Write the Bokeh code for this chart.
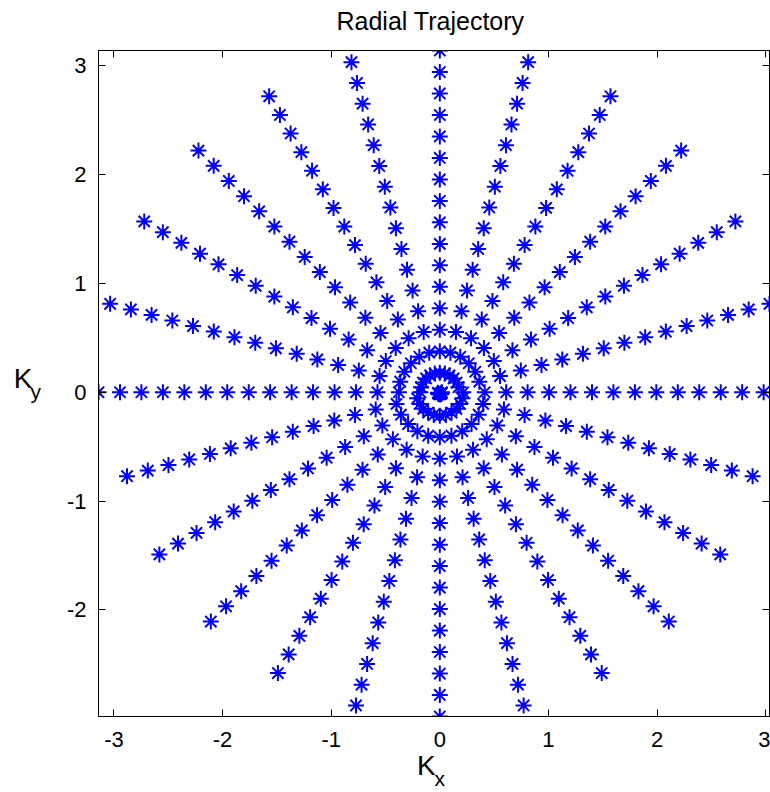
import math
from bokeh.plotting import figure
from bokeh.models import Range1d, LinearAxis, FixedTicker, ColumnDataSource
from bokeh.embed import file_html
from bokeh.resources import INLINE

# ---- data ----
# spoke orientations (degrees) of the 12 lines through the k-space centre
spoke_angles_deg = [0, 15, 30, 45, 60, 75, 90, 105, 120, 135, 150, 165]
# sample positions along every spoke (signed distance from the centre)
k_samples = [-3.142, -2.944, -2.747, -2.549, -2.352, -2.154, -1.957, -1.759,
             -1.562, -1.364, -1.167, -0.969, -0.772, -0.574, -0.377, -0.179,
             0.018, 0.216, 0.413, 0.611, 0.808, 1.006, 1.203, 1.401,
             1.598, 1.796, 1.993, 2.191, 2.388, 2.586, 2.783, 2.981]
x_ticks = [-3, -2, -1, 0, 1, 2, 3]
y_ticks = [-2, -1, 0, 1, 2, 3]
title_text = "Radial Trajectory"

# ---- build point table ----
kx, ky = [], []
for a in spoke_angles_deg:
    t = math.radians(a)
    for k in k_samples:
        kx.append(k * math.cos(t))
        ky.append(-k * math.sin(t))
src = ColumnDataSource(dict(kx=kx, ky=ky))

xmin, xmax = min(kx), max(kx)
ymin, ymax = min(ky), max(ky)

W, H = 770, 792
FL, FR, FT, FB = 98, 769, 50, 716   # frame edges in pixels
FONT = "Liberation Sans"
NB = "\u00a0"

p = figure(width=W, height=H, output_backend="svg", toolbar_location=None,
           x_range=Range1d(xmin, xmax), y_range=Range1d(ymin, ymax),
           min_border_left=FL, min_border_right=W - FR, min_border_top=FT,
           min_border_bottom=H - FB, title=None)
p.background_fill_color = "white"
p.border_fill_color = "white"
p.outline_line_color = "black"
p.outline_line_width = 1
p.xgrid.visible = False
p.ygrid.visible = False


def style_main(ax, ticks, standoff):
    ax.ticker = FixedTicker(ticks=ticks)
    ax.major_label_overrides = {t: str(t) for t in ticks}
    ax.minor_tick_line_color = None
    ax.major_tick_in = 7
    ax.major_tick_out = 0
    ax.major_tick_line_color = "black"
    ax.axis_line_color = "black"
    ax.major_label_text_font = FONT
    ax.major_label_text_font_size = "22px"
    ax.major_label_text_color = "black"
    ax.major_label_standoff = standoff
    ax.axis_label_text_font = FONT
    ax.axis_label_text_font_style = "normal"
    ax.axis_label_text_color = "black"


xa = p.xaxis[0]
style_main(xa, x_ticks, 15)
xa.axis_label = "K" + NB + NB
xa.axis_label_text_font_size = "28px"
xa.axis_label_standoff = 0

ya = p.yaxis[0]
style_main(ya, y_ticks, 12)
ya.axis_label = "\ny"
ya.axis_label_orientation = "horizontal"
ya.axis_label_text_font_size = "21px"
ya.axis_label_text_line_height = 0.7
ya.axis_label_standoff = 23

# mirrored tick marks on top and right (MATLAB box); the top one carries the title
mirror = {}
for ticks, side in ((x_ticks, "above"), (y_ticks, "right")):
    ax = LinearAxis(ticker=FixedTicker(ticks=ticks))
    ax.minor_tick_line_color = None
    ax.major_tick_in = 7
    ax.major_tick_out = 0
    ax.major_label_text_font_size = "0px"
    ax.major_label_standoff = 0
    ax.major_label_overrides = {t: "" for t in ticks}
    ax.axis_line_color = "black"
    p.add_layout(ax, side)
    mirror[side] = ax

top = mirror["above"]
top.axis_label = title_text + NB
top.axis_label_text_font = FONT
top.axis_label_text_font_style = "normal"
top.axis_label_text_font_size = "25px"
top.axis_label_text_color = "black"
top.axis_label_standoff = 16

# subscript of K_x
sub_x = LinearAxis(ticker=FixedTicker(ticks=[]), axis_label=NB + NB + "x")
sub_x.axis_line_color = None
sub_x.major_tick_line_color = None
sub_x.minor_tick_line_color = None
sub_x.major_label_standoff = 0
sub_x.axis_label_text_font = FONT
sub_x.axis_label_text_font_style = "normal"
sub_x.axis_label_text_font_size = "21px"
sub_x.axis_label_text_color = "black"
sub_x.axis_label_standoff = -17
p.add_layout(sub_x, "below")

# K of K_y
k_y = LinearAxis(ticker=FixedTicker(ticks=[]), axis_label="K\n")
k_y.axis_line_color = None
k_y.major_tick_line_color = None
k_y.minor_tick_line_color = None
k_y.major_label_standoff = 0
k_y.axis_label_orientation = "horizontal"
k_y.axis_label_text_font = FONT
k_y.axis_label_text_font_style = "normal"
k_y.axis_label_text_font_size = "28px"
k_y.axis_label_text_line_height = 0.35
k_y.axis_label_text_color = "black"
k_y.axis_label_standoff = -5
p.add_layout(k_y, "left")

p.scatter("kx", "ky", source=src, marker="asterisk", size=16,
          line_color="#0000FF", line_width=2)

open("out.html", "w").write(file_html(p, INLINE))
